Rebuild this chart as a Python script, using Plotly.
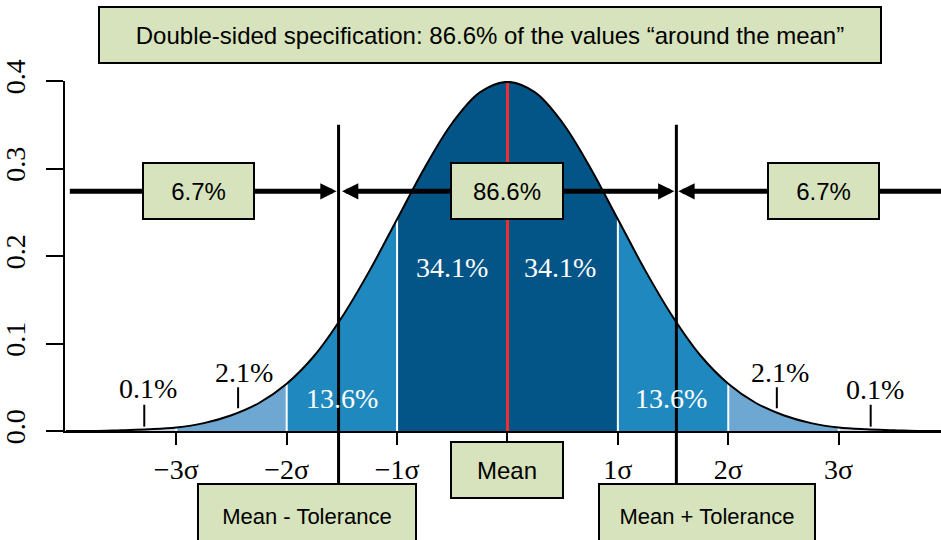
import plotly.graph_objects as go

# ---------------- data ----------------
sigma_x = [-4.0, -3.75, -3.5, -3.25, -3.0, -2.75, -2.5, -2.25, -2.0, -1.75, -1.5, -1.25,
           -1.0, -0.75, -0.5, -0.25, 0.0, 0.25, 0.5, 0.75, 1.0, 1.25, 1.5, 1.75,
           2.0, 2.25, 2.5, 2.75, 3.0, 3.25, 3.5, 3.75, 4.0]
density = [0.000, 0.000, 0.001, 0.002, 0.004, 0.009, 0.018, 0.032, 0.054, 0.086, 0.130, 0.183,
           0.242, 0.301, 0.352, 0.387, 0.399, 0.387, 0.352, 0.301, 0.242, 0.183, 0.130, 0.086,
           0.054, 0.032, 0.018, 0.009, 0.004, 0.002, 0.001, 0.000, 0.000]

band_lo = [-4, -3, -2, -1, 1, 2, 3]
band_hi = [-3, -2, -1, 1, 2, 3, 4]
band_colors = ["#c6d6e8", "#6ea7d1", "#1f89bf", "#045587", "#1f89bf", "#6ea7d1", "#c6d6e8"]
band_edges = [-3, -2, -1, 1, 2, 3]

x_tick_vals = [-3, -2, -1, 0, 1, 2, 3]
x_tick_text = ["\u22123\u03c3", "\u22122\u03c3", "\u22121\u03c3", "", "1\u03c3", "2\u03c3", "3\u03c3"]
y_tick_vals = [0.0, 0.1, 0.2, 0.3, 0.4]
y_tick_text = ["0.0", "0.1", "0.2", "0.3", "0.4"]

inner_labels = ["13.6%", "34.1%", "34.1%", "13.6%"]
inner_label_x = [-1.5, -0.5, 0.48, 1.48]
inner_label_y = [0.037, 0.187, 0.187, 0.037]

outer_labels = ["0.1%", "2.1%", "2.1%", "0.1%"]
outer_label_x = [-3.26, -2.39, 2.47, 3.33]
outer_label_y = [0.049, 0.067, 0.067, 0.047]
outer_tick_x = [-3.29, -2.44, 2.44, 3.29]
outer_tick_y0 = [0.005, 0.026, 0.026, 0.005]
outer_tick_y1 = [0.030, 0.050, 0.050, 0.030]

tolerance = 1.53
share_outside = "6.7%"
share_inside = "86.6%"
title_text = "Double-sided specification: 86.6% of the values \u201caround the mean\u201d"

# ---------------- styling / layout constants ----------------
X_RANGE = [-4.008, 3.927]
Y_RANGE = [0.0, 0.4]
W, H = 941, 540
ML, MR, MT, MB = 65, 0, 81, 109
SERIF = "Liberation Serif, Times New Roman, serif"
SANS = "Liberation Sans, Arial, sans-serif"
BOX_FILL = "#d6e3bc"
ARROW_Y = 0.274
TOL_TOP = 0.35

def y_to_paper(v):
    return (v - Y_RANGE[0]) / (Y_RANGE[1] - Y_RANGE[0])

def px_to_paper_y(py):
    plot_h = H - MT - MB
    return (H - MB - py) / plot_h

fig = go.Figure()

for lo, hi, col in zip(band_lo, band_hi, band_colors):
    xs = [x for x in sigma_x if lo <= x <= hi]
    ys = [d for x, d in zip(sigma_x, density) if lo <= x <= hi]
    fig.add_trace(go.Scatter(x=xs, y=ys, mode="lines", fill="tozeroy", fillcolor=col,
                             line=dict(width=0, color=col, shape="spline"),
                             hoverinfo="skip", showlegend=False))

for b in band_edges:
    top = density[sigma_x.index(b)]
    fig.add_trace(go.Scatter(x=[b, b], y=[0, top], mode="lines",
                             line=dict(color="white", width=2),
                             hoverinfo="skip", showlegend=False))

peak = density[sigma_x.index(0.0)]
fig.add_trace(go.Scatter(x=[0, 0], y=[0, peak], mode="lines",
                         line=dict(color="#f03030", width=3),
                         hoverinfo="skip", showlegend=False))

fig.add_trace(go.Scatter(x=sigma_x, y=density, mode="lines",
                         line=dict(color="black", width=2, shape="spline"),
                         hoverinfo="skip", showlegend=False))

for tx, y0, y1 in zip(outer_tick_x, outer_tick_y0, outer_tick_y1):
    fig.add_trace(go.Scatter(x=[tx, tx], y=[y0, y1], mode="lines",
                             line=dict(color="black", width=2),
                             hoverinfo="skip", showlegend=False))

for s in (-1, 1):
    fig.add_shape(type="line", xref="x", yref="paper",
                  x0=s * tolerance, x1=s * tolerance,
                  y0=px_to_paper_y(484), y1=y_to_paper(TOL_TOP),
                  line=dict(color="black", width=3), layer="above")

annotations = []

for t, x, y in zip(inner_labels, inner_label_x, inner_label_y):
    annotations.append(dict(x=x, y=y, xref="x", yref="y", text=t, showarrow=False,
                            xanchor="center", yanchor="middle",
                            font=dict(family=SERIF, size=28, color="white")))
for t, x, y in zip(outer_labels, outer_label_x, outer_label_y):
    annotations.append(dict(x=x, y=y, xref="x", yref="y", text=t, showarrow=False,
                            xanchor="center", yanchor="middle",
                            font=dict(family=SERIF, size=28, color="black")))

arrow_common = dict(xref="x", yref="y", axref="x", ayref="y", text="", showarrow=True,
                    arrowhead=2, arrowsize=0.65, arrowwidth=5, arrowcolor="black")
annotations.append(dict(x=-tolerance, y=ARROW_Y, ax=X_RANGE[0] + 0.03, ay=ARROW_Y,
                        standoff=2, **arrow_common))
annotations.append(dict(x=tolerance, y=ARROW_Y, ax=-tolerance, ay=ARROW_Y,
                        arrowside="end+start", standoff=2, startstandoff=2, **arrow_common))
annotations.append(dict(x=tolerance, y=ARROW_Y, ax=X_RANGE[1] + 0.05, ay=ARROW_Y,
                        standoff=2, **arrow_common))

def box(text, x, y, w, h, xref="x", yref="y", size=24):
    return dict(x=x, y=y, xref=xref, yref=yref, text=text, showarrow=False,
                xanchor="center", yanchor="middle",
                width=w - 4, height=h - 4, borderwidth=2, borderpad=0,
                bordercolor="black", bgcolor=BOX_FILL, align="center", valign="middle",
                font=dict(family=SANS, size=size, color="black"))

annotations.append(box(share_outside, -2.80, ARROW_Y, 113, 58))
annotations.append(box(share_inside, 0.0, ARROW_Y, 114, 58))
annotations.append(box(share_outside, 2.86, ARROW_Y, 113, 58))
annotations.append(box("Mean", 0.0, px_to_paper_y(470), 114, 58, yref="paper"))
annotations.append(box("Mean - Tolerance", -1.82, px_to_paper_y(516), 220, 66, yref="paper", size=22))
annotations.append(box("Mean + Tolerance", 1.81, px_to_paper_y(516), 218, 66, yref="paper", size=22))
annotations.append(box(title_text, (490 - ML) / (W - ML - MR), px_to_paper_y(35), 784, 58,
                       xref="paper", yref="paper", size=24))

fig.update_layout(
    width=W, height=H,
    margin=dict(l=ML, r=MR, t=MT, b=MB),
    paper_bgcolor="white", plot_bgcolor="white",
    showlegend=False,
    annotations=annotations,
    xaxis=dict(range=X_RANGE, showgrid=False, zeroline=False, showline=True,
               linecolor="black", linewidth=2, ticks="outside", ticklen=12, tickwidth=2,
               tickcolor="black", tickvals=x_tick_vals, ticktext=x_tick_text,
               tickfont=dict(family=SERIF, size=28, color="black"), ticklabelstandoff=0),
    yaxis=dict(range=Y_RANGE, showgrid=False, zeroline=False, showline=True,
               linecolor="black", linewidth=2, ticks="outside", ticklen=17, tickwidth=2,
               tickcolor="black", tickvals=y_tick_vals, ticktext=y_tick_text,
               tickangle=-90, tickfont=dict(family=SERIF, size=28, color="black"),
               ticklabelstandoff=10),
)

fig.write_html("out.html", config={"displayModeBar": False},
               post_script="document.body.style.margin='0';document.body.style.padding='0';")
